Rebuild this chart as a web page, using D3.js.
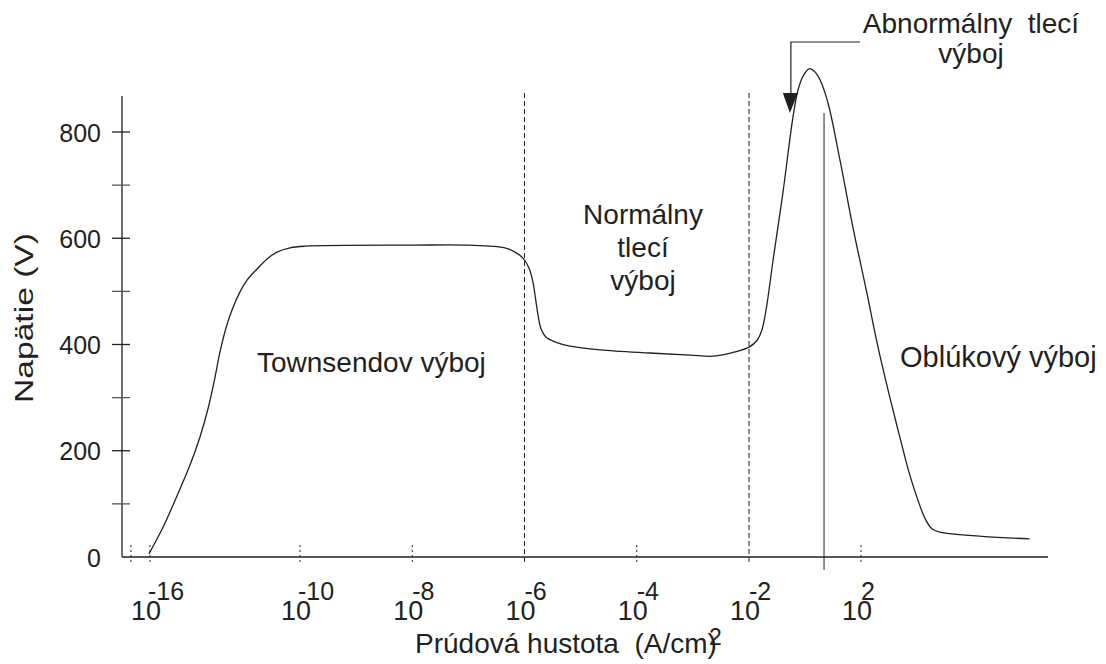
<!DOCTYPE html>
<html>
<head>
<meta charset="utf-8">
<script src="https://cdn.jsdelivr.net/npm/d3@7"></script>
<style>
  body { margin: 0; background: #fff; }
  text { font-family: "Liberation Sans", Arial, sans-serif; fill: #231f20; }
</style>
</head>
<body>
<svg id="chart" width="1106" height="664"></svg>
<script>
// Discharge characteristic: log10 of current density (A/cm²) against voltage (V)
const logCurrent = [-16.04, -15.48, -14.92, -14.4, -14.0, -13.68, -13.44, -13.2, -12.96, -12.72,
  -12.4, -12.12, -11.72, -11.32, -10.92, -10.4, -9.91, -8, -7, -6.35, -6.17, -6.03,
  -5.92, -5.85, -5.8, -5.76, -5.71, -5.62, -5.46, -5.19, -4.65, -3.76,
  -3.05, -2.64, -2.25, -2.0, -1.71, -1.54, -1.39, -1.14, -0.79, -0.43,
  -0.25, -0.07, 0.14, 0.32, 0.54, 0.82, 1.25, 1.71, 2.21, 2.61,
  3.04, 3.39, 3.75, 4.04, 4.29, 4.54, 4.82, 8.04];
const voltage = [6, 56, 115, 173, 226, 279, 329, 386, 431, 465,
  499, 521, 542, 561, 574, 582, 585, 587, 587, 582, 574, 563,
  544, 518, 484, 456, 431, 414, 405, 397, 390, 384,
  380, 378, 386, 395, 408, 427, 465, 559, 685, 828,
  879, 905, 919, 915, 898, 855, 747, 621, 497, 395,
  299, 226, 154, 107, 73, 53, 47, 34];

// Voltage axis
const yTicks = [0, 200, 400, 600, 800];
const yMinorTicks = [100, 300, 500, 700];
const yTop = 868;

// Current-density axis (decade exponents)
const xTickExponents = [-16, -10, -8, -6, -4, -2, 2];
const xTickLabels = ["-16", "-10", "-8", "-6", "-4", "-2", "2"];
const xExtraTicks = [-16.75];
const regionBounds = [-6, -2];        // Townsend | normal glow | abnormal glow
const arcLine = 0.68;                 // onset of the arc discharge
const arcLineTop = 836;

// Region names
const townsendLabel = ["Townsendov výboj"];
const normalGlowLabel = ["Normálny", "tlecí", "výboj"];
const arcLabel = ["Oblúkový výboj"];
const abnormalGlowLabel = ["Abnormálny  tlecí", "výboj"];
const abnormalArrowTarget = [-0.54, 836];

const xAxisTitle = "Prúdová hustota  (A/cm)";
const xAxisTitleSup = "2";
const yAxisTitle = "Napätie (V)";

const svg = d3.select("#chart");
const ink = "#231f20";

// The current axis is schematic: decades are compressed differently per region
const x = d3.scaleLinear()
  .domain([-17.1, -16, -10, -2, 2, 8.7])
  .range([122, 150, 300, 749, 861, 1048]);
const y = d3.scaleLinear().domain([0, 800]).range([557, 132]);

const x0 = x(-17.1), yBase = y(0);

// region boundary dashed lines
svg.append("g").selectAll("line").data(regionBounds).join("line")
  .attr("x1", d => x(d)).attr("x2", d => x(d))
  .attr("y1", 93).attr("y2", yBase + 8)
  .attr("stroke", ink).attr("stroke-width", 1).attr("stroke-dasharray", "5,3");

// short dotted tick marks on the current axis
const dotted = xTickExponents.filter(d => !regionBounds.includes(d)).concat(xExtraTicks);
svg.append("g").selectAll("line").data(dotted).join("line")
  .attr("x1", d => x(d)).attr("x2", d => x(d))
  .attr("y1", yBase - 12).attr("y2", yBase + 8)
  .attr("stroke", ink).attr("stroke-width", 1).attr("stroke-dasharray", "2,3");

// arc onset solid line
svg.append("line")
  .attr("x1", x(arcLine)).attr("x2", x(arcLine))
  .attr("y1", y(arcLineTop)).attr("y2", yBase + 13)
  .attr("stroke", "#555").attr("stroke-width", 1.3);

// axis lines
svg.append("line").attr("x1", x0).attr("x2", x0).attr("y1", y(yTop)).attr("y2", yBase)
  .attr("stroke", ink).attr("stroke-width", 1.3);
svg.append("line").attr("x1", x0).attr("x2", x(8.7)).attr("y1", yBase).attr("y2", yBase)
  .attr("stroke", ink).attr("stroke-width", 1.3);

// voltage ticks crossing the axis
svg.append("g").selectAll("line").data(yTicks.filter(d => d > 0).concat(yMinorTicks)).join("line")
  .attr("x1", x0 - 10).attr("x2", x0 + 8)
  .attr("y1", d => y(d)).attr("y2", d => y(d))
  .attr("stroke", d => yMinorTicks.includes(d) ? "#555" : ink).attr("stroke-width", 1.3);

// voltage tick labels
const yAxis = d3.axisLeft(y).tickValues(yTicks).tickSize(0).tickPadding(21).tickFormat(d3.format("d"));
const gy = svg.append("g").attr("transform", `translate(${x0},0)`).call(yAxis);
gy.select(".domain").remove();
gy.attr("font-family", null).attr("font-size", null);
gy.selectAll("text").attr("font-size", 25).attr("fill", ink).attr("dy", "0.36em");

// current tick labels: 10 with raised exponent
const xl = svg.append("g");
xl.selectAll("text.base").data(xTickExponents).join("text").attr("class", "base")
  .attr("x", d => x(d) + 11).attr("y", 620).attr("text-anchor", "end")
  .attr("font-size", 27).text("10");
xl.selectAll("text.exp").data(xTickExponents).join("text").attr("class", "exp")
  .attr("x", (d, i) => x(d) - (xTickLabels[i].length > 2 ? 2 : 0)).attr("y", 600)
  .attr("font-size", 25).text((d, i) => xTickLabels[i]);

// curve
const pts = logCurrent.map((e, i) => [e, voltage[i]]);
svg.append("path").datum(pts)
  .attr("d", d3.line().x(d => x(d[0])).y(d => y(d[1])).curve(d3.curveCatmullRom.alpha(0.5)))
  .attr("fill", "none").attr("stroke", ink).attr("stroke-width", 1.3);

// axis titles
svg.append("text").attr("x", 415).attr("y", 653).attr("font-size", 28)
  .style("white-space", "pre").text(xAxisTitle);
svg.append("text").attr("x", 709).attr("y", 645).attr("font-size", 23).text(xAxisTitleSup);
svg.append("text").attr("transform", "translate(33,318) rotate(-90)")
  .attr("text-anchor", "middle").attr("font-size", 25)
  .attr("textLength", 170).attr("lengthAdjust", "spacingAndGlyphs").text(yAxisTitle);

// region names
function block(lines, cx, y0, dy, anchor, size) {
  svg.append("g").selectAll("text").data(lines).join("text")
    .attr("x", cx).attr("y", (d, i) => y0 + i * dy)
    .attr("text-anchor", anchor).attr("font-size", size)
    .style("white-space", "pre").text(d => d);
}
block(townsendLabel, 257, 372, 0, "start", 28);
block(normalGlowLabel, 643, 224, 33, "middle", 28);
block(arcLabel, 900, 367, 0, "start", 29);
block(abnormalGlowLabel, 971, 33, 30, "middle", 28);

// pointer to the abnormal glow region
const tx = x(abnormalArrowTarget[0]), ty = y(abnormalArrowTarget[1]);
svg.append("path")
  .attr("d", `M860,42H${tx + 1}V${ty - 18}`)
  .attr("fill", "none").attr("stroke", ink).attr("stroke-width", 1.2);
svg.append("path")
  .attr("d", `M${tx - 7},${ty - 20}L${tx + 8},${ty - 20}L${tx},${ty}Z`)
  .attr("fill", ink);
</script>
</body>
</html>
